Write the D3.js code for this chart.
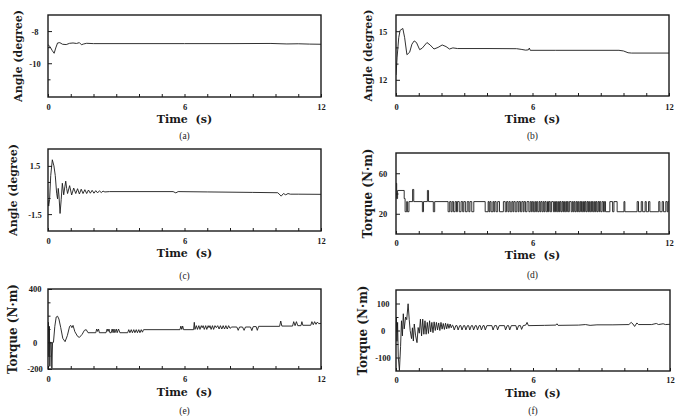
<!DOCTYPE html>
<html>
<head>
<meta charset="utf-8">
<script src="https://cdn.jsdelivr.net/npm/d3@7"></script>
<style>
  body { margin: 0; background: #fff; }
  .lbl { font-family: "DejaVu Serif", serif; font-weight: bold; fill: #1a1a1a; white-space: pre; }
  .tk { color: #1a1a1a; }
  .tk text { font-family: "Liberation Serif", serif; font-weight: bold; font-size: 8.5px; fill: #1a1a1a; }
  .tk line { stroke: #1a1a1a; }
  .cap { font-family: "Liberation Serif", serif; font-size: 9.5px; fill: #1a1a1a; }
</style>
</head>
<body>
<div id="fig"></div>
<script>
var secTicks = [0,1,2,3,4,5,6,7,8,9,10,11,12];
var secLabels = [0, 6, 12];

var ticksA = [-8, -10], minorA = [-9, -11];
var ticksB = [15, 12], minorB = [14, 13];
var ticksC = [1.5, -1.5], minorC = [0.5, -0.5];
var ticksD = [60, 20], minorD = [40];
var ticksE = [400, 0, -200], minorE = [300, 200, 100, -100];
var ticksF = [100, 0, -100], minorF = [50, -50];

// joint angles, [time s, degree]
var angleA = [[0,-8.85],[0.08,-8.95],[0.18,-9.2],[0.27,-9.38],[0.34,-9.05],[0.42,-8.74],[0.52,-8.72],[0.64,-8.82],
  [0.8,-8.84],[0.95,-8.76],[1.1,-8.74],[1.25,-8.77],[1.38,-8.72],[1.47,-8.85],[1.57,-8.8],[1.7,-8.76],[2.0,-8.78],
  [4,-8.78],[6,-8.78],[8,-8.78],[9.8,-8.77],[10.5,-8.8],[11,-8.79],[11.5,-8.81],[12,-8.82]];

var angleB = [[0,12.3],[0.05,13.4],[0.12,14.6],[0.18,15.05],[0.3,15.17],[0.38,14.6],[0.48,13.55],[0.6,13.7],
  [0.7,14.2],[0.8,14.4],[0.9,14.3],[1.04,13.86],[1.15,13.95],[1.36,14.3],[1.5,14.15],[1.67,13.9],[1.85,14.0],
  [2.03,14.15],[2.2,14.05],[2.35,13.9],[2.5,13.97],[2.7,13.93],[4,13.93],[5.3,13.92],[5.5,13.88],[5.7,13.83],
  [5.82,13.85],[5.86,13.96],[5.9,13.82],[7,13.82],[9.8,13.82],[10.0,13.78],[10.2,13.67],[10.35,13.65],[12,13.65]];

var angleC = [[0,-0.6],[0.03,-1.0],[0.07,-0.6],[0.12,0.9],[0.19,1.88],[0.26,1.5],[0.32,0.9],[0.38,-0.2],
  [0.42,-0.55],[0.45,0.1],[0.48,-0.3],[0.53,-1.46],[0.58,-0.6],[0.63,0.42],[0.69,-0.3],[0.74,0.2],[0.78,0.55],
  [0.82,0.1],[0.86,-0.22],[0.95,0.27],[1.04,-0.31],[1.13,0.12],[1.22,-0.22],[1.3,0.08],[1.38,-0.25],[1.46,0.05],
  [1.54,-0.22],[1.62,0.02],[1.7,-0.22],[1.78,0.0],[1.86,-0.2],[1.94,-0.02],[2.02,-0.2],[2.1,-0.04],[2.18,-0.18],
  [2.26,-0.05],[2.34,-0.16],[2.42,-0.07],[2.5,-0.12],[2.7,-0.1],[4,-0.1],[5.5,-0.1],[5.62,-0.18],[5.72,-0.1],
  [7,-0.12],[9,-0.15],[10.1,-0.17],[10.25,-0.38],[10.35,-0.22],[10.45,-0.3],[10.55,-0.22],[10.65,-0.26],
  [11,-0.26],[12,-0.27]];

// torque (d) switching points, held until the next point
var torqueD = [[0,50],[0.03,35],[0.07,43],[0.36,35],[0.4,22],[0.47,32],[0.5,22],[0.57,32],[0.73,44],[0.78,32],
  [1.16,22],[1.21,32],[1.38,43],[1.43,32],[1.64,22],[1.7,32],
  [2.29,22],[2.36,32],[2.42,22],[2.47,32],[2.53,22],[2.6,32],[2.66,22],[2.7,32],[2.78,22],[2.86,32],[2.93,22],
  [2.98,32],[3.05,22],[3.13,32],[3.2,22],[3.25,32],[3.33,22],[3.42,32],
  [3.92,22],[4.05,32],[4.09,22],[4.13,32],[4.18,22],[4.26,32],[4.3,22],[4.34,32],[4.4,22],[4.47,32],[4.55,22],[4.72,32],
  [4.8,22],[4.86,32],[4.92,22],[4.97,32],[5.02,22],[5.09,32],[5.14,22],[5.18,32],[5.24,22],[5.31,32],[5.37,22],
  [5.41,32],[5.47,22],[5.53,32],[5.59,22],[5.63,32],[5.69,22],[5.76,32],
  [5.84,22],[5.9,32],[5.95,22],[5.99,32],[6.04,22],[6.1,32],[6.14,22],[6.18,32],[6.23,22],[6.29,32],[6.33,22],
  [6.37,32],[6.42,22],[6.47,32],[6.51,22],[6.55,32],[6.6,22],[6.66,32],[6.7,22],[6.73,32],[6.78,22],[6.84,32],
  [6.92,22],[6.97,32],[7.01,22],[7.05,32],[7.09,22],[7.14,32],[7.18,22],[7.21,32],[7.25,22],[7.3,32],[7.34,22],
  [7.37,32],[7.41,22],[7.46,32],[7.5,22],[7.53,32],[7.57,22],[7.62,32],[7.7,22],[7.75,32],[7.79,22],[7.83,32],
  [7.87,22],[7.92,32],[7.96,22],[7.99,32],[8.03,22],[8.08,32],[8.12,22],[8.15,32],[8.19,22],[8.24,32],[8.28,22],
  [8.31,32],[8.35,22],[8.4,32],[8.44,22],[8.47,32],[8.51,22],[8.56,32],[8.6,22],[8.63,32],[8.67,22],[8.72,32],
  [8.76,22],[8.79,32],[8.83,22],[8.88,32],[8.92,22],[8.95,32],[9.0,22],[9.06,32],[9.12,22],[9.16,32],[9.21,22],
  [9.4,32],[9.52,22],[9.58,32],[9.72,22],[10.02,32],[10.06,22],
  [10.6,32],[10.66,22],[10.78,32],[10.84,22],[10.95,32],[11.0,22],[11.1,32],[11.16,22],
  [11.55,32],[11.6,22],[11.7,32],[11.76,22],[11.86,32],[11.92,22],[11.96,32],[12,32]];

var torqueE = [[0,100],[0.02,150],[0.04,-100],[0.06,120],[0.08,-180],[0.1,0],[0.14,0],[0.17,-195],[0.2,0],
  [0.24,0],[0.3,120],[0.36,190],[0.42,196],[0.48,175],[0.56,110],[0.65,30],[0.75,5],[0.85,50],[0.95,120],
  [1.0,127],[1.05,110],[1.1,127],[1.18,80],[1.3,45],[1.38,37],[1.5,60],[1.6,90],[1.68,95],[1.76,72],
  [2.1,72],[2.14,100],[2.18,82],[2.22,100],[2.26,72],[2.55,72],[2.6,100],[2.64,82],[2.68,100],[2.72,72],
  [2.78,72],[2.82,100],[2.86,72],[2.9,100],[2.94,72],[3.0,100],[3.04,72],[3.1,100],[3.16,72],[3.5,72],
  [3.55,95],[3.6,72],[3.66,95],[3.71,72],[3.77,95],[3.82,72],[3.88,95],[3.93,72],[3.99,95],[4.04,72],
  [4.1,95],[4.15,76],[4.2,95],[5.8,95],[5.84,122],[5.88,97],[5.92,122],[5.96,95],[6.4,95],[6.43,150],
  [6.46,97],[6.52,125],[6.57,97],[6.63,125],[6.68,97],[6.74,125],[6.78,110],[6.82,125],[6.87,97],[6.93,125],
  [6.98,97],[7.04,125],[7.08,110],[7.12,125],[7.17,97],[7.23,125],[7.28,97],[7.34,125],[7.4,110],[7.46,125],
  [7.52,100],[7.58,125],[7.64,100],[7.7,125],[7.76,100],[7.82,125],[7.88,100],[7.94,125],[8.0,105],[8.08,115],
  [8.3,115],[8.36,90],[8.42,115],[8.55,115],[8.62,90],[8.68,115],[8.9,115],[8.96,88],[9.02,118],[9.15,118],
  [9.2,90],[9.26,120],[10.18,120],[10.23,160],[10.28,122],[10.75,122],[10.8,155],[10.86,125],[10.92,155],
  [10.98,125],[11.12,125],[11.16,155],[11.2,128],[11.55,128],[11.6,155],[11.66,132],[11.72,155],[11.78,135],
  [11.84,152],[11.9,140],[12,142]];

var torqueF = [[0,0],[0.02,50],[0.04,-40],[0.07,30],[0.1,-100],[0.15,-148],[0.2,-60],[0.24,36],[0.28,-20],
  [0.32,62],[0.36,6],[0.42,50],[0.47,40],[0.53,99],[0.58,40],[0.62,0],[0.68,-30],[0.72,10],[0.76,-39],
  [0.8,24],[0.86,-20],[0.92,-45],[0.97,11],[1.02,-10],[1.07,42],[1.12,-20],[1.17,42],[1.22,-14],[1.27,36],
  [1.32,-14],[1.37,30],[1.42,-11],[1.47,36],[1.52,-5],[1.57,30],[1.62,-8],[1.67,32],[1.72,0],[1.77,30],
  [1.82,2],[1.87,28],[1.92,0],[1.97,30],[2.02,5],[2.07,26],[2.12,4],[2.17,27],[2.22,6],[2.27,25],[2.32,8],
  [2.37,24],[2.42,10],[2.47,20],
  [2.5,18],[2.55,2],[2.62,18],[2.67,18],[2.72,2],[2.79,18],[2.84,18],[2.89,2],[2.96,18],[3.01,18],[3.06,2],
  [3.13,18],[3.18,18],[3.23,2],[3.3,18],[3.35,18],[3.4,2],[3.47,18],[3.52,18],[3.57,2],[3.64,18],[3.69,18],
  [3.74,2],[3.81,18],[3.86,18],[3.91,2],[3.98,18],[4.2,18],[4.25,2],[4.32,18],[4.4,18],[4.45,2],[4.52,18],
  [4.75,18],[4.8,2],[4.87,18],[4.93,18],[4.98,2],[5.05,18],[5.25,18],[5.3,2],[5.37,18],[5.45,18],[5.5,4],
  [5.57,18],[5.68,20],[5.74,30],[5.8,18],[6.5,19],[7.0,20],[7.05,25],[7.1,19],[8.0,20],[8.3,22],[8.5,19],
  [8.8,21],[9.5,21],[10.2,22],[10.3,30],[10.38,24],[10.45,15],[10.55,28],[10.62,22],[11.2,22],[11.4,26],
  [11.5,22],[11.7,25],[11.8,22],[12,23]];

var domainA = [-12.1, -7], domainB = [11, 16], domainC = [-2.55, 2.55];
var domainD = [0, 80], domainE = [-200, 400], domainF = [-150, 150];

var W = 697, H = 416;
var svg = d3.select('#fig').append('svg').attr('width', W).attr('height', H);

var panels = [
  {tag:'(a)', x:48, y:15, w:273, h:82, dom:domainA, ticks:ticksA, minor:minorA, data:angleA, curve:d3.curveLinear,
   ylab:'Angle (degree)', ylx:18, fs:11, tly:107.5, tty:119, cy:136},
  {tag:'(b)', x:396, y:15, w:273, h:81, dom:domainB, ticks:ticksB, minor:minorB, data:angleB, curve:d3.curveLinear,
   ylab:'Angle (degree)', ylx:368, fs:11, tly:107, tty:119.5, cy:136},
  {tag:'(c)', x:48, y:149, w:273, h:82, dom:domainC, ticks:ticksC, minor:minorC, data:angleC, curve:d3.curveLinear,
   ylab:'Angle (degree)', ylx:13, fs:11, tly:241, tty:253, cy:276},
  {tag:'(d)', x:396, y:153, w:273, h:81, dom:domainD, ticks:ticksD, minor:minorD, data:torqueD, curve:d3.curveStepAfter,
   ylab:'Torque (N\u00b7m)', ylx:368, fs:12, tly:243, tty:255, cy:275},
  {tag:'(e)', x:48, y:289, w:273, h:80, dom:domainE, ticks:ticksE, minor:minorE, data:torqueE, curve:d3.curveLinear,
   ylab:'Torque (N\u00b7m)', ylx:13, fs:12, tly:379.5, tty:392, cy:411},
  {tag:'(f)', x:396, y:290, w:274, h:81, dom:domainF, ticks:ticksF, minor:minorF, data:torqueF, curve:d3.curveLinear,
   ylab:'Torque (N\u00b7m)', ylx:363, fs:12, tly:380, tty:393, cy:411}
];

panels.forEach(drawPanel);

function drawPanel(p){
    var x = d3.scaleLinear().domain([0, 12]).range([p.x, p.x + p.w]);
    var y = d3.scaleLinear().domain(p.dom).range([p.y + p.h, p.y]);

    var clipId = 'clip' + p.tag.replace(/[()]/g, '');
    svg.append('clipPath').attr('id', clipId)
       .append('rect').attr('x', p.x).attr('y', p.y).attr('width', p.w).attr('height', p.h);

    var line = d3.line().x(d => x(d[0])).y(d => y(d[1])).curve(p.curve);
    svg.append('path')
       .datum(p.data)
       .attr('clip-path', 'url(#' + clipId + ')')
       .attr('d', line)
       .attr('fill', 'none')
       .attr('stroke', '#1a1a1a')
       .attr('stroke-width', 0.9);

    // bottom ticks, inward
    svg.append('g').attr('class', 'tk')
       .attr('transform', 'translate(0,' + (p.y + p.h) + ')')
       .call(d3.axisBottom(x).tickValues(secTicks).tickSize(-3).tickPadding(0)
             .tickFormat(d => secLabels.includes(d) ? d : ''))
       .call(g => g.select('.domain').remove())
       .selectAll('text')
       .attr('y', p.tly - (p.y + p.h))
       .attr('dy', '0.35em');

    svg.append('g').attr('class', 'tk')
       .attr('transform', 'translate(' + p.x + ',0)')
       .call(d3.axisLeft(y).tickValues(p.minor).tickSize(-2.5).tickFormat(''))
       .call(g => g.select('.domain').remove());

    svg.append('g').attr('class', 'tk')
       .attr('transform', 'translate(' + p.x + ',0)')
       .call(d3.axisLeft(y).tickValues(p.ticks).tickSize(-4).tickPadding(0).tickFormat(d => d))
       .call(g => g.select('.domain').remove())
       .selectAll('text')
       .attr('x', -13)
       .attr('dy', '0.35em')
       .style('text-anchor', 'middle');

    svg.append('rect')
       .attr('x', p.x).attr('y', p.y)
       .attr('width', p.w).attr('height', p.h)
       .attr('fill', 'none')
       .attr('stroke', '#1a1a1a')
       .attr('stroke-width', 1.4);

    svg.append('text').attr('class', 'lbl')
       .attr('x', p.x + p.w / 2).attr('y', p.tty).attr('dy', '0.35em')
       .attr('text-anchor', 'middle')
       .style('font-size', '11px')
       .text('Time  (s)');

    svg.append('text').attr('class', 'lbl')
       .attr('transform', 'translate(' + p.ylx + ',' + (p.y + p.h / 2) + ') rotate(-90)')
       .attr('dy', '0.35em')
       .attr('text-anchor', 'middle')
       .style('font-size', p.fs + 'px')
       .text(p.ylab);

    svg.append('text').attr('class', 'cap')
       .attr('x', p.x + p.w / 2).attr('y', p.cy).attr('dy', '0.35em')
       .attr('text-anchor', 'middle')
       .text(p.tag);
}
</script>
</body>
</html>
